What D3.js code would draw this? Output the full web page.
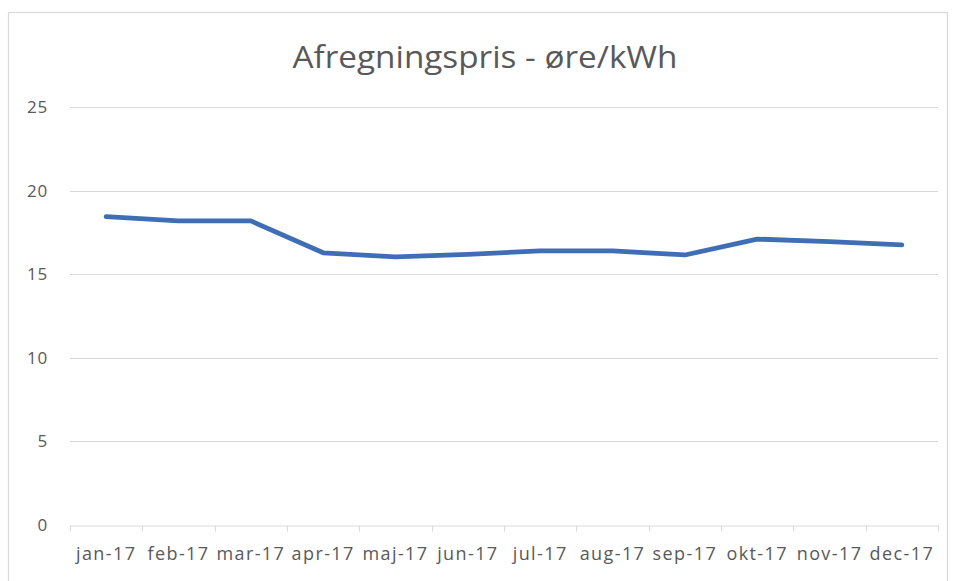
<!DOCTYPE html>
<html>
<head>
<meta charset="utf-8">
<script src="https://cdn.jsdelivr.net/npm/d3@7"></script>
<style>
  html, body { margin: 0; padding: 0; background: #fff; }
  svg { display: block; }
</style>
</head>
<body>
<svg id="chart" width="957" height="581"></svg>
<script>
const categories = ["jan-17","feb-17","mar-17","apr-17","maj-17","jun-17","jul-17","aug-17","sep-17","okt-17","nov-17","dec-17"];
const values = [18.44, 18.19, 18.19, 16.28, 16.04, 16.18, 16.4, 16.39, 16.15, 17.1, 16.95, 16.75];
const yTicks = [0, 5, 10, 15, 20, 25];
const title = "Afregningspris - øre/kWh";

const svg = d3.select("#chart");
const W = 957, H = 581;
const margin = {left: 70, right: 19, top: 107, bottom: 56};
const font = "'Open Sans', 'Liberation Sans', sans-serif";

// chart border
svg.append("rect").attr("x", 8.5).attr("y", 12.5).attr("width", 939).attr("height", 580)
  .attr("fill", "#fff").attr("stroke", "#d9d9d9").attr("stroke-width", 1.2);

const x = d3.scaleBand().domain(categories).range([margin.left, W - margin.right]).padding(0);
const y = d3.scaleLinear().domain([0, 25]).range([H - margin.bottom, margin.top]);

// gridlines
svg.append("g").selectAll("line").data(yTicks.filter(d => d > 0)).join("line")
  .attr("x1", margin.left).attr("x2", W - margin.right)
  .attr("y1", d => Math.round(y(d)) + 0.5).attr("y2", d => Math.round(y(d)) + 0.5)
  .attr("stroke", "#d9d9d9").attr("stroke-width", 1);

// y labels
svg.append("g").selectAll("text").data(yTicks).join("text")
  .attr("x", 48).attr("y", d => y(d)).attr("dy", "0.35em")
  .attr("text-anchor", "end").attr("font-family", font).attr("font-size", 17)
  .attr("letter-spacing", 0.8)
  .attr("fill", "#595959").text(d => d);

// x axis
const xAxis = d3.axisBottom(x).tickSize(0).tickPadding(22);
const gx = svg.append("g").attr("transform", `translate(0,${Math.round(y(0)) + 0.5})`).call(xAxis);
gx.select(".domain").attr("stroke", "#d9d9d9");
gx.selectAll("text").attr("font-family", font).attr("font-size", 18)
  .attr("letter-spacing", 1.4).attr("fill", "#595959");
// category boundary ticks
const bounds = categories.map(c => x(c)).concat([x(categories[categories.length - 1]) + x.bandwidth()]);
gx.append("g").selectAll("line").data(bounds).join("line")
  .attr("x1", d => Math.round(d) + 0.5).attr("x2", d => Math.round(d) + 0.5)
  .attr("y1", 0).attr("y2", 6).attr("stroke", "#d9d9d9");

// line
const line = d3.line().x((d, i) => x(categories[i]) + x.bandwidth() / 2).y(d => y(d));
svg.append("path").datum(values).attr("d", line)
  .attr("fill", "none").attr("stroke", "#3F6EB6").attr("stroke-width", 4.8)
  .attr("stroke-linejoin", "round").attr("stroke-linecap", "round");

// title
svg.append("text").attr("x", 485).attr("y", 68).attr("text-anchor", "middle")
  .attr("font-family", font).attr("font-size", 31).attr("fill", "#595959")
  .attr("textLength", 385).attr("lengthAdjust", "spacingAndGlyphs")
  .text(title);
</script>
</body>
</html>
